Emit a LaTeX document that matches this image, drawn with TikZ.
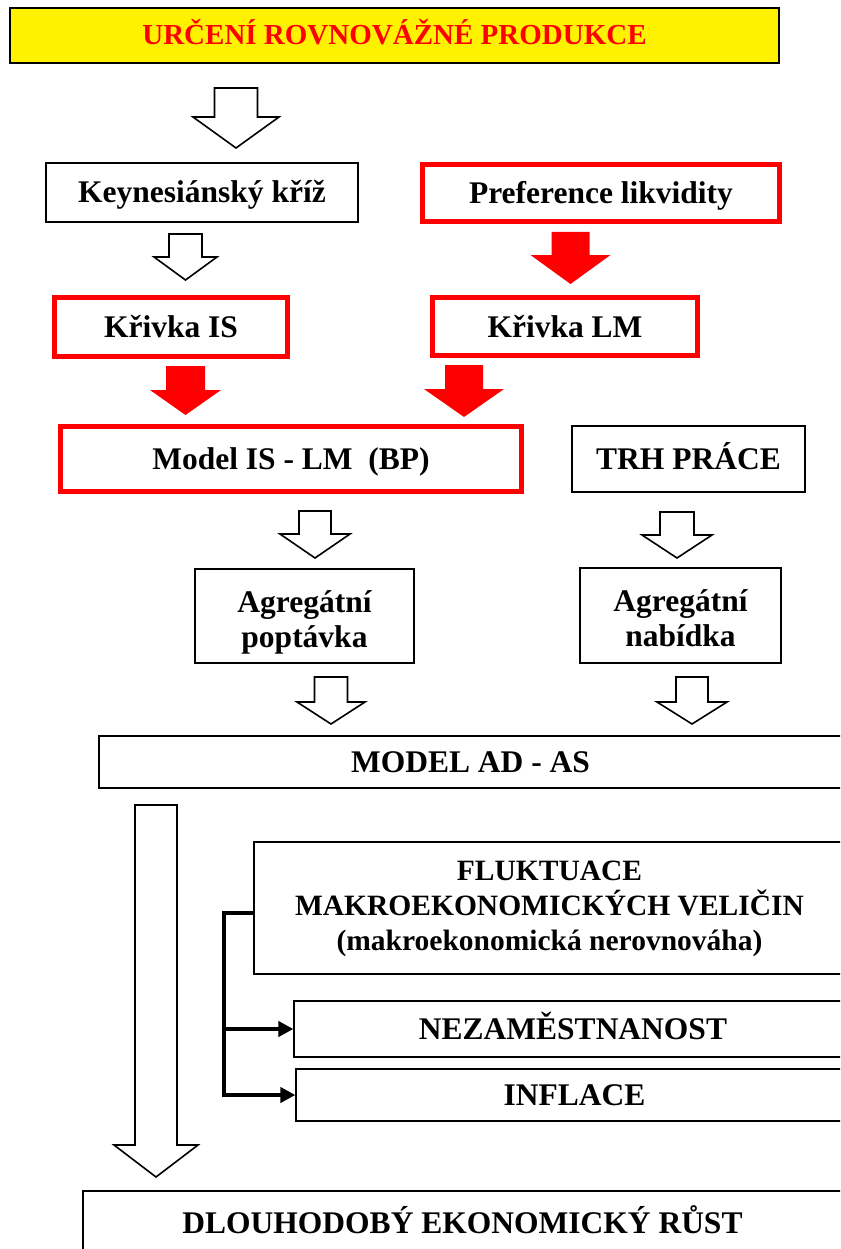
\documentclass[tikz,border=0pt]{standalone}
\usepackage{fontspec}
\setmainfont{Liberation Serif}
\usepackage{tikz}
\usetikzlibrary{arrows.meta}

\tikzset{
  box/.style={draw=black, line width=1.2pt, fill=white, inner sep=0pt, align=center,
    text height=21pt, text depth=0pt, font=\bfseries\fontsize{31.5}{35}\selectfont},
  redbox/.style={box, draw=red, line width=5pt},
  hollow/.style={draw=black, line width=1.6pt, fill=white, line join=miter},
  redarrow/.style={fill=red, draw=none},
  branch/.style={line width=4pt, line join=miter},
}

% block arrow: style, x, top, shaft end, tip, shaft half, head half
\newcommand{\blockarrow}[7]{%
  \draw[#1] (#2-#6,#3) -- (#2+#6,#3) -- (#2+#6,#4) -- (#2+#7,#4) -- (#2,#5)
    -- (#2-#7,#4) -- (#2-#6,#4) -- cycle;}

\begin{document}
\begin{tikzpicture}[x=1pt,y=-1pt]
\useasboundingbox (0,0) rectangle (840,1249);
\clip (0,0) rectangle (840,1249);

% boxes
\node[box, fill=yellow, text=red, font=\bfseries\fontsize{29}{34}\selectfont, text height=19pt,
  minimum width=769pt, minimum height=55pt] (title) at (394.5,35.5) {URČENÍ ROVNOVÁŽNÉ PRODUKCE};
\node[box, minimum width=312pt, minimum height=59pt] (keyn) at (202,192.5) {Keynesiánský kříž};
\node[redbox, minimum width=357pt, minimum height=57pt] (pref) at (601,193.5) {Preference likvidity};
\node[redbox, minimum width=233pt, minimum height=59pt] (is) at (171,327) {Křivka IS};
\node[redbox, minimum width=265pt, minimum height=58pt] (lm) at (565,326.5) {Křivka LM};
\node[redbox, minimum width=461pt, minimum height=65pt] (islm) at (291,459) {Model IS - LM\ \ (BP)};
\node[box, minimum width=233pt, minimum height=66pt] (trh) at (688.5,459) {TRH PRÁCE};
\node[box, text height=62pt, minimum width=219pt, minimum height=94pt] (ad) at (304.5,616) {Agregátní\\poptávka};
\node[box, text height=62pt, minimum width=201pt, minimum height=95pt] (as) at (680.5,615.5) {Agregátní\\nabídka};
\node[box, minimum width=743pt, minimum height=52pt] (adas) at (470.5,762) {MODEL AD - AS};
\node[box, font=\bfseries\fontsize{29.5}{35}\selectfont, text height=84pt, minimum width=591pt,
  minimum height=132pt] (fluk) at (549.5,908) {FLUKTUACE\\MAKROEKONOMICKÝCH VELIČIN\\(makroekonomická nerovnováha)};
\node[box, minimum width=558pt, minimum height=56pt] (nezam) at (573,1029) {NEZAMĚSTNANOST};
\node[box, minimum width=557pt, minimum height=52pt] (infl) at (574.5,1095) {INFLACE};
\node[box, minimum width=759pt, minimum height=64pt] (rust) at (462.5,1223) {DLOUHODOBÝ EKONOMICKÝ RŮST};

% block arrows
\blockarrow{hollow}{236}{88}{117}{148}{21.5}{43}
\blockarrow{hollow}{185.5}{234}{257}{280}{16.5}{31.5}
\blockarrow{redarrow}{570.5}{232}{255}{284}{19}{40}
\blockarrow{redarrow}{185.5}{366}{390}{415}{19.5}{35.5}
\blockarrow{redarrow}{464}{365}{389}{417}{19}{40}
\blockarrow{hollow}{315}{511}{534}{558}{16}{35}
\blockarrow{hollow}{677}{512}{535}{558}{17}{35}
\blockarrow{hollow}{331}{677}{702}{724}{16.5}{34}
\blockarrow{hollow}{692}{677}{702}{724}{16}{35}
\blockarrow{hollow}{156}{805}{1145}{1177}{21}{42}

% branches
\coordinate (fork) at (224,913);
\draw[branch, -{Triangle[length=15pt,width=15pt]}] (fluk.west |- fork) -- (fork) -- (fork |- infl.west) -- (infl.west);
\draw[branch, -{Triangle[length=15pt,width=15pt]}] (fork |- nezam.west) -- (nezam.west);
\end{tikzpicture}
\end{document}
